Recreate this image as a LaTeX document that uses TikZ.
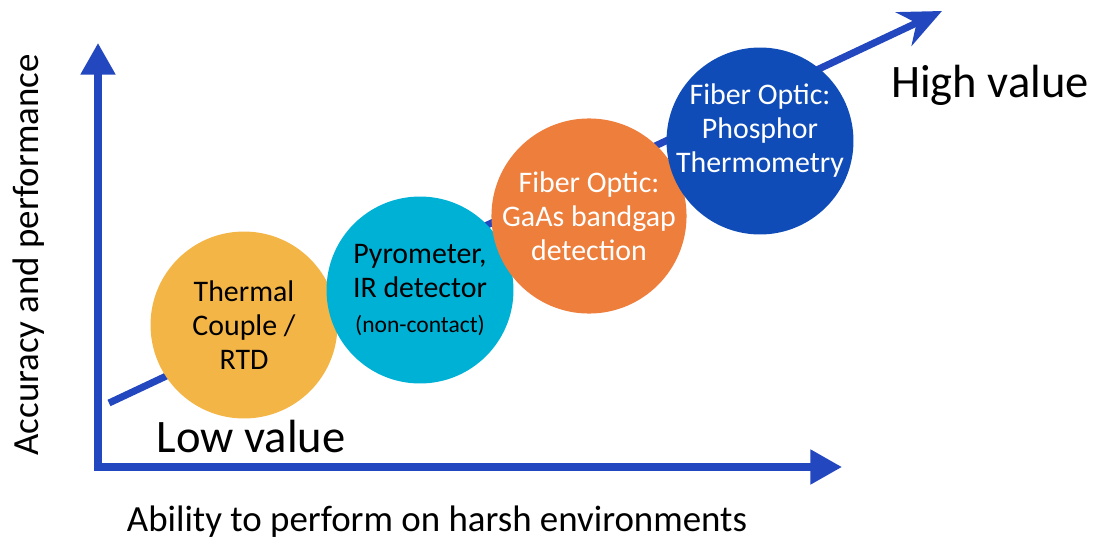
\documentclass[tikz,border=0pt]{standalone}
\usepackage{fontspec}
\setmainfont{Carlito}
\usetikzlibrary{arrows.meta,positioning}
\definecolor{axisblue}{HTML}{2347BF}
\definecolor{warmyellow}{HTML}{F4B547}
\definecolor{irteal}{HTML}{00B1D6}
\definecolor{gaasorange}{HTML}{ED7E3C}
\definecolor{deepblue}{HTML}{0F4CB7}

\begin{document}
\begin{tikzpicture}[x=0.02cm,y=-0.02cm,
   axis/.style={line width=4pt,draw=axisblue},
   disc/.style={circle,minimum size=3.74cm,inner sep=0pt,align=center,
                font=\fontsize{17}{19.5}\selectfont},
   bigtext/.style={font=\fontsize{26.5}{30}\selectfont,anchor=base},
   axistext/.style={font=\fontsize{21}{24}\selectfont,anchor=base}]
  \useasboundingbox (0,0) rectangle (1100,541);
  \coordinate (origin) at (98,467);
  \coordinate (ytip) at (98,43);
  \coordinate (xtip) at (842,467);
  \coordinate (trendlow) at (109,403);
  \coordinate (trendhigh) at (942,11);
  \draw[axis,{Triangle[length=18pt,width=19pt]}-{Triangle[length=18pt,width=19pt]}]
       (ytip) -- (origin) -- (xtip);
  \draw[axis,-{Stealth[length=24pt,width=21pt,inset=8pt]}] (trendlow) -- (trendhigh);

  \node[disc,fill=warmyellow] (thermal) at (244,325) {Thermal\\Couple /\\RTD};
  \node[disc,fill=irteal] (pyro) at (420,290)
       {Pyrometer,\\IR detector\\{\fontsize{13.4}{15}\selectfont (non-contact)}};
  \node[disc,fill=gaasorange,text=white] (gaas) at (589,216)
       {Fiber Optic:\\GaAs bandgap\\detection};
  \node[disc,fill=deepblue,
        label={[disc,text=white,yshift=6pt]center:{Fiber Optic:\\Phosphor\\Thermometry}}]
       (phosphor) at (760,141) {};

  \node[bigtext] (high) at (990,97) {High value};
  \node[bigtext] (low) at (251,452) {Low value};
  \node[axistext] (xlabel) at (437,531) {Ability to perform on harsh environments};
  \node[axistext,rotate=90] (ylabel) at (38,255) {Accuracy and performance};
\end{tikzpicture}
\end{document}
